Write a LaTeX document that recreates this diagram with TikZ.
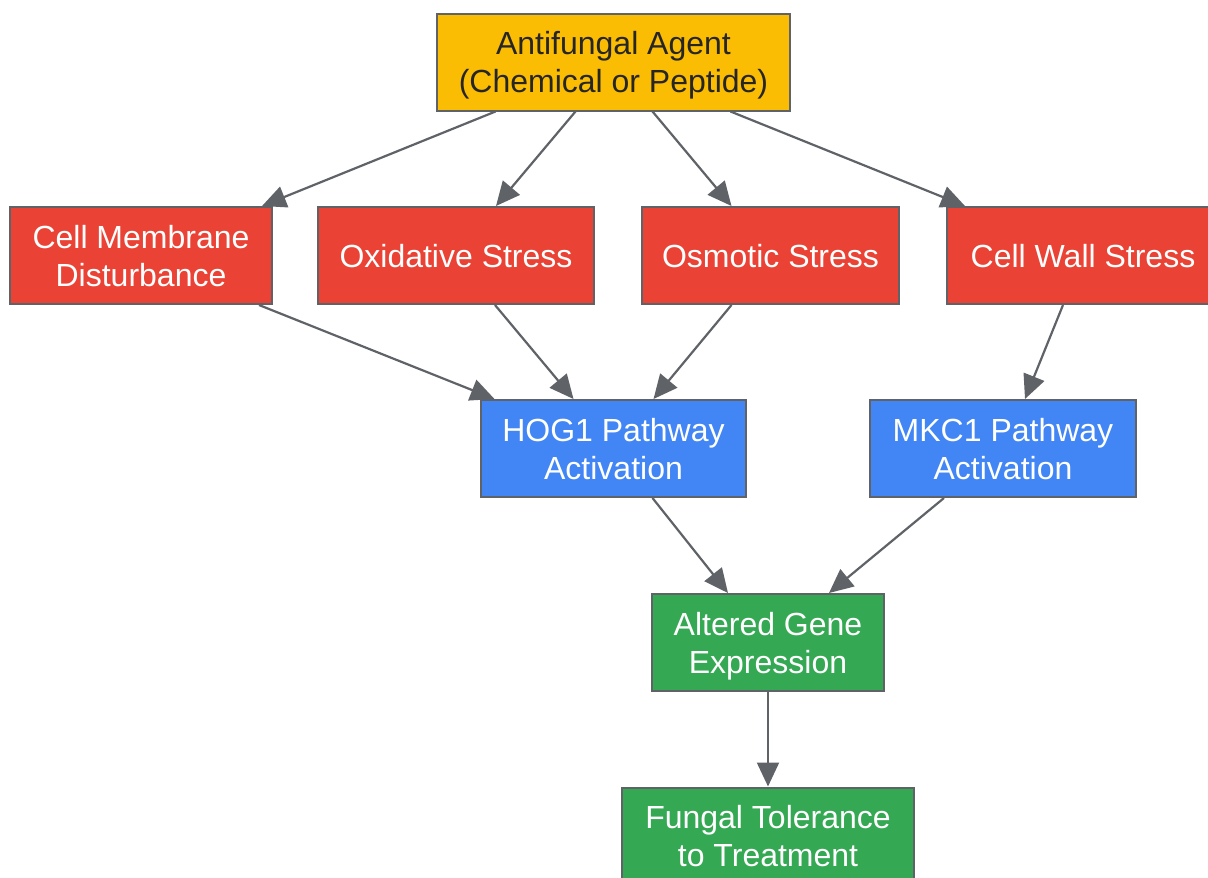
\documentclass[tikz,border=0pt]{standalone}
\usepackage{fontspec}
\setmainfont{Liberation Sans}
\usetikzlibrary{arrows.meta}
\definecolor{agentyellow}{HTML}{FBBC04}
\definecolor{stressred}{HTML}{EA4335}
\definecolor{pathblue}{HTML}{4285F4}
\definecolor{genegreen}{HTML}{34A853}
\definecolor{edgegray}{HTML}{5F6368}
\begin{document}
\begin{tikzpicture}[
	box/.style={draw=edgegray,line width=2pt,minimum height=97pt,align=center,text=white,
		font=\fontsize{32}{38}\selectfont,inner sep=0pt,text depth=0pt},
	flow/.style={draw=edgegray,line width=2.2pt,-{Triangle[length=24pt,width=22pt]}}
	]
	\useasboundingbox (0pt,0pt) rectangle (1208pt,-878pt);
	% top
	\node [box,fill=agentyellow,text=black!85,minimum width=353pt] (agent) at (613.5pt,-62pt) {Antifungal Agent\\(Chemical or Peptide)};
	% stresses
	\node [box,fill=stressred,minimum width=262pt] (membrane) at (141pt,-255.5pt) {Cell Membrane\\Disturbance};
	\node [box,fill=stressred,minimum width=276pt] (oxid) at (456pt,-255.5pt) {Oxidative Stress};
	\node [box,fill=stressred,minimum width=257pt] (osmo) at (770.5pt,-255.5pt) {Osmotic Stress};
	\node [box,fill=stressred,minimum width=272pt] (wall) at (1083pt,-255.5pt) {Cell Wall Stress};
	% pathways
	\node [box,fill=pathblue,minimum width=265pt] (hog) at (613.5pt,-448.5pt) {HOG1 Pathway\\Activation};
	\node [box,fill=pathblue,minimum width=266pt] (mkc) at (1003pt,-448.5pt) {MKC1 Pathway\\Activation};
	% outcome
	\node [box,fill=genegreen,minimum width=232pt] (gene) at (768pt,-642.5pt) {Altered Gene\\Expression};
	\node [box,fill=genegreen,minimum width=292pt] (tolerance) at (768pt,-836pt) {Fungal Tolerance\\to Treatment};

	\draw [flow] ([xshift=-118pt]agent.south) -- ([xshift=121pt]membrane.north);
	\draw [flow] ([xshift=-38pt]agent.south) -- ([xshift=40pt]oxid.north);
	\draw [flow] ([xshift=39pt]agent.south) -- ([xshift=-39pt]osmo.north);
	\draw [flow] ([xshift=117pt]agent.south) -- ([xshift=-118pt]wall.north);
	\draw [flow] ([xshift=118pt]membrane.south) -- ([xshift=-119pt]hog.north);
	\draw [flow] ([xshift=39pt]oxid.south) -- ([xshift=-40pt]hog.north);
	\draw [flow] ([xshift=-39pt]osmo.south) -- ([xshift=40pt]hog.north);
	\draw [flow] ([xshift=-20pt]wall.south) -- ([xshift=22pt]mkc.north);
	\draw [flow] ([xshift=39pt]hog.south) -- ([xshift=-40pt]gene.north);
	\draw [flow] ([xshift=-59pt]mkc.south) -- ([xshift=61pt]gene.north);
	\draw [flow] (gene) -- (tolerance);
\end{tikzpicture}
\end{document}
